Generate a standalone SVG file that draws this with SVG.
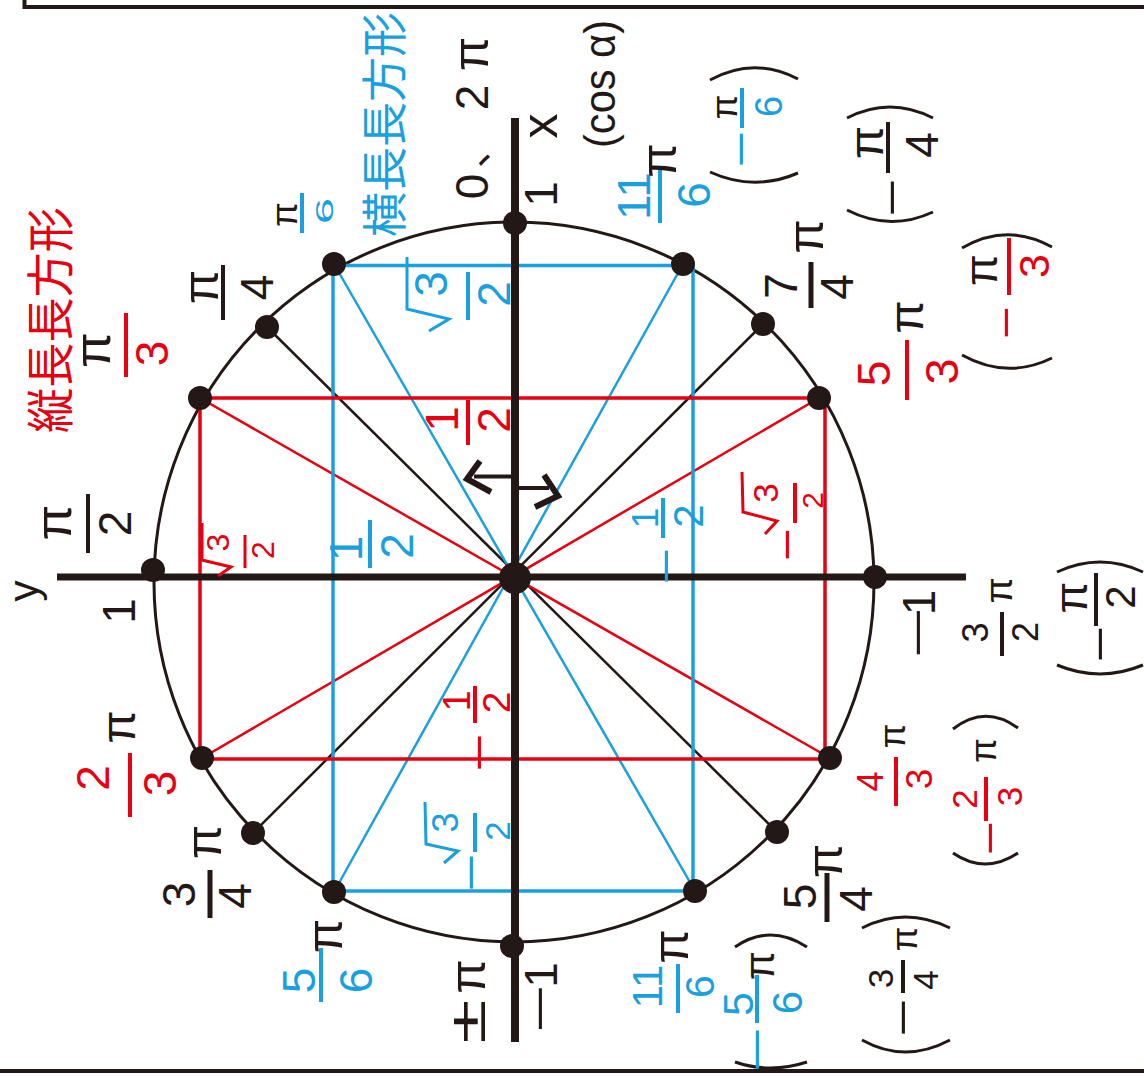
<svg xmlns="http://www.w3.org/2000/svg" width="1144" height="1078" viewBox="0 0 1144 1078">
<defs>
<style>
.t{font-family:"Liberation Sans","Noto Sans CJK JP",sans-serif;text-anchor:middle}
.j{font-family:"Noto Sans CJK JP",sans-serif;text-anchor:middle}
.k{fill:#231815}
.r{fill:#e60012}
.b{fill:#1a9fe0}
.lk{stroke:#231815;fill:none}
.lr{stroke:#e60012;fill:none}
.lb{stroke:#1a9fe0;fill:none}
.par{stroke:#231815;stroke-width:3;fill:none}
.rad{stroke-width:3;fill:none;stroke-linejoin:miter}
.dot{fill:#231815}
</style>
</defs>
<rect width="1144" height="1078" fill="#ffffff"/>
<g id="frame" class="lk" stroke-width="4">
<path d="M24.5 0 V7 H1144"/>
<path d="M0 1071 H1144"/>
</g>
<g id="connectors">
<circle cx="514" cy="582" r="360" class="lk" stroke-width="3"/>
<g class="lk" stroke-width="2.5">
<line x1="267" y1="327" x2="777" y2="832"/>
<line x1="253" y1="833" x2="763" y2="324"/>
</g>
<g class="lb" stroke-width="2.5">
<line x1="334" y1="264" x2="695" y2="891"/>
<line x1="683" y1="264" x2="334" y2="892"/>
</g>
<g class="lr" stroke-width="2.5">
<line x1="200" y1="398" x2="830" y2="758"/>
<line x1="202" y1="758" x2="819" y2="398"/>
</g>
<path class="lb" stroke-width="3.5" d="M333 265.5 H693 V891 H333 Z"/>
<path class="lr" stroke-width="3.5" d="M200 398 H825 V759 H200 Z"/>
<g class="lk">
<line x1="57" y1="577" x2="966" y2="577" stroke-width="7"/>
<line x1="515" y1="118" x2="515" y2="1042" stroke-width="8"/>
<path d="M512 476.5 H474" stroke-width="4"/>
<path d="M480 461 L467 479 L491 492" stroke-width="6"/>
<path d="M516 488 H549" stroke-width="4"/>
<path d="M544 475 L558 496 L535 507" stroke-width="6"/>
</g>
</g>
<g id="points">
<circle id="p0" class="dot" cx="515" cy="223" r="12"/>
<circle id="p30" class="dot" cx="334" cy="264" r="12"/>
<circle id="p45" class="dot" cx="267" cy="327" r="12"/>
<circle id="p60" class="dot" cx="200" cy="398" r="12"/>
<circle id="p90" class="dot" cx="153" cy="570" r="12"/>
<circle id="p120" class="dot" cx="202" cy="758" r="12"/>
<circle id="p135" class="dot" cx="253" cy="833" r="12"/>
<circle id="p150" class="dot" cx="334" cy="892" r="12"/>
<circle id="p180" class="dot" cx="512" cy="946" r="12"/>
<circle id="p210" class="dot" cx="695" cy="891" r="12"/>
<circle id="p225" class="dot" cx="777" cy="832" r="12"/>
<circle id="p240" class="dot" cx="830" cy="758" r="12"/>
<circle id="p270" class="dot" cx="875" cy="577" r="12"/>
<circle id="p300" class="dot" cx="819" cy="398" r="12"/>
<circle id="p315" class="dot" cx="763" cy="324" r="12"/>
<circle id="p330" class="dot" cx="683" cy="264" r="12"/>
<circle id="origin" class="dot" cx="515" cy="578" r="16"/>
</g>
<g id="labels" transform="translate(0 1078) rotate(-90)">
<g id="lbl-tate"><text class="j r" x="758" y="68" font-size="48" textLength="226" lengthAdjust="spacingAndGlyphs">縦長長方形</text></g>
<g id="lbl-yoko"><text class="j b" x="953.5" y="401" font-size="46" textLength="225" lengthAdjust="spacingAndGlyphs">横長長方形</text></g>
<g id="lbl-y"><text class="t k" x="487" y="38" font-size="42">y</text></g>
<g id="lbl-y1"><text class="t k" x="467" y="135" font-size="46">1</text></g>
<g id="lbl-pi2"><text class="t k" x="555.5" y="71" font-size="52">π</text><line class="lk" stroke-width="4" x1="525" y1="88" x2="584" y2="88"/><text class="t k" x="554.5" y="131" font-size="46">2</text></g>
<g id="lbl-pi3"><text class="t k" x="728" y="110" font-size="52">π</text><line class="lr" stroke-width="4" x1="701" y1="126" x2="765" y2="126"/><text class="t r" x="724.5" y="168" font-size="46">3</text></g>
<g id="lbl-pi4"><text class="t k" x="791" y="218" font-size="50">π</text><line class="lk" stroke-width="4" x1="758" y1="223" x2="813" y2="223"/><text class="t k" x="790.5" y="273" font-size="46">4</text></g>
<g id="lbl-pi6"><text class="t k" x="863.5" y="297" font-size="36">π</text><line class="lb" stroke-width="4" x1="845" y1="302" x2="885" y2="302"/><text class="t b" x="867" y="333" font-size="24" textLength="26" lengthAdjust="spacingAndGlyphs">6</text></g>
<g id="lbl-zero"><text class="t k" x="891.5" y="488" font-size="46">0</text><text class="j k" x="910" y="487" font-size="40" style="text-anchor:start">、</text><text class="t k" x="980.5" y="488" font-size="46">2</text><text class="t k" x="1024" y="488" font-size="50">π</text></g>
<g id="lbl-x"><text class="t k" x="952" y="557" font-size="50">x</text></g>
<g id="lbl-x1"><text class="t k" x="884" y="557" font-size="46">1</text></g>
<g id="lbl-cos"><text class="t k" x="994" y="615" font-size="44" textLength="128" lengthAdjust="spacingAndGlyphs">(cos α)</text></g>
<g id="lbl-11pi6-top"><text class="t b" x="882" y="650" font-size="46">11</text><line class="lb" stroke-width="4" x1="855" y1="660" x2="908" y2="660"/><text class="t b" x="883" y="710" font-size="46">6</text><text class="t k" x="917.5" y="676" font-size="50">π</text></g>
<g id="lbl-mpi6"><path class="par" d="M998 710 Q1022 754 999 798"/><path class="par" d="M906 710 Q886 754 905 798"/><text class="t k" x="971" y="737" font-size="36">π</text><line class="lb" stroke-width="4" x1="950" y1="742" x2="990" y2="742"/><text class="t b" x="971.5" y="782" font-size="38">6</text><text class="t b" x="929" y="756" font-size="44" textLength="37" lengthAdjust="spacingAndGlyphs">−</text></g>
<g id="lbl-7pi4"><text class="t k" x="792" y="797" font-size="46">7</text><line class="lk" stroke-width="5" x1="770" y1="811" x2="816" y2="811"/><text class="t k" x="791" y="853" font-size="46">4</text><text class="t k" x="841.5" y="823" font-size="50">π</text></g>
<g id="lbl-mpi4"><path class="par" d="M960 847 Q982 890 960 933"/><path class="par" d="M868 847 Q846 890 866 933"/><text class="t k" x="935.5" y="883" font-size="48">π</text><line class="lk" stroke-width="4" x1="905" y1="888" x2="956" y2="888"/><text class="t k" x="933" y="938" font-size="46">4</text><text class="t k" x="880.5" y="907" font-size="44" textLength="38.6" lengthAdjust="spacingAndGlyphs">−</text></g>
<g id="lbl-mpi3"><path class="par" d="M830 962 Q856 1007 831 1052"/><path class="par" d="M723 962 Q698 1007 720 1052"/><text class="t k" x="808" y="997" font-size="46">π</text><line class="lr" stroke-width="4" x1="783" y1="1009" x2="840" y2="1009"/><text class="t r" x="812" y="1049" font-size="43">3</text><text class="t r" x="755.5" y="1021" font-size="44" textLength="33" lengthAdjust="spacingAndGlyphs">−</text></g>
<g id="lbl-5pi3"><text class="t k" x="761" y="923" font-size="48">π</text><line class="lr" stroke-width="4" x1="678" y1="907" x2="738" y2="907"/><text class="t r" x="704.5" y="890" font-size="46">5</text><text class="t r" x="706.5" y="958" font-size="47">3</text></g>
<g id="lbl-sqrt3-top"><polyline class="lb rad" points="747,429 759,449 769,407 821,407"/><text class="t b" x="794" y="447" font-size="46">3</text><line class="lb" stroke-width="4" x1="758" y1="468" x2="806" y2="468"/><text class="t b" x="784" y="510" font-size="46">2</text></g>
<g id="lbl-half-top"><text class="t r" x="659" y="458" font-size="46">1</text><line class="lr" stroke-width="4" x1="633" y1="468" x2="678" y2="468"/><text class="t r" x="658" y="510" font-size="46">2</text></g>
<g id="lbl-sqrt3-left"><polyline class="lr rad" points="502,218 511,231 518,202 555,202"/><text class="t r" x="535.5" y="229" font-size="32">3</text><line class="lr" stroke-width="3" x1="510" y1="245" x2="543" y2="245"/><text class="t r" x="528" y="274" font-size="32">2</text></g>
<g id="lbl-half-left"><text class="t b" x="529.5" y="362" font-size="46">1</text><line class="lb" stroke-width="4" x1="510" y1="370" x2="558" y2="370"/><text class="t b" x="532" y="413" font-size="46">2</text></g>
<g id="lbl-mhalf-right"><text class="t b" x="560" y="658" font-size="37">1</text><line class="lb" stroke-width="4" x1="540" y1="663" x2="580" y2="663"/><text class="t b" x="562" y="703" font-size="42">2</text><text class="t b" x="512" y="681" font-size="44" textLength="37" lengthAdjust="spacingAndGlyphs">−</text></g>
<g id="lbl-msqrt3-right"><polyline class="lr rad" points="544,765 557,777 566,743 606,742"/><text class="t r" x="585" y="778" font-size="35">3</text><line class="lr" stroke-width="4" x1="555" y1="795" x2="595" y2="795"/><text class="t r" x="577.5" y="823" font-size="30">2</text><text class="t r" x="533.5" y="802" font-size="44" textLength="33" lengthAdjust="spacingAndGlyphs">−</text></g>
<g id="lbl-mhalf-bottom"><text class="t r" x="377" y="470" font-size="38">1</text><line class="lr" stroke-width="4" x1="355" y1="475" x2="392" y2="475"/><text class="t r" x="375.5" y="510" font-size="39">2</text><text class="t r" x="325.5" y="494" font-size="44" textLength="38.6" lengthAdjust="spacingAndGlyphs">−</text></g>
<g id="lbl-msqrt3-bottom"><polyline class="lb rad" points="215,444 227,458 234,426 276,425"/><text class="t b" x="255.5" y="458" font-size="36">3</text><line class="lb" stroke-width="4" x1="226" y1="475" x2="265" y2="475"/><text class="t b" x="247" y="510" font-size="35">2</text><text class="t b" x="205.5" y="486" font-size="44" textLength="38.6" lengthAdjust="spacingAndGlyphs">−</text></g>
<g id="lbl-pmpi"><text class="t k" x="101.5" y="485" font-size="50">π</text><text class="t k" x="56.5" y="485" font-size="52" textLength="44" lengthAdjust="spacingAndGlyphs">±</text></g>
<g id="lbl-m1-bottom"><text class="t k" x="103" y="557" font-size="46">1</text><text class="t k" x="69.5" y="555" font-size="44" textLength="49" lengthAdjust="spacingAndGlyphs">−</text></g>
<g id="lbl-11pi6-bottom"><text class="t b" x="91.5" y="662" font-size="42">11</text><line class="lb" stroke-width="4" x1="65" y1="678" x2="114" y2="678"/><text class="t b" x="91.5" y="714" font-size="41">6</text><text class="t k" x="131.5" y="688" font-size="50">π</text></g>
<g id="lbl-m5pi6"><path class="par" d="M131 735 Q155 770 131 807"/><path class="par" d="M16 735 Q4 770 16 807"/><text class="t k" x="112.5" y="774" font-size="42">π</text><text class="t b" x="74" y="753" font-size="43">5</text><line class="lb" stroke-width="4" x1="55" y1="757" x2="103" y2="757"/><text class="t b" x="75.5" y="802" font-size="42">6</text><text class="t b" x="28.5" y="772" font-size="44" textLength="46" lengthAdjust="spacingAndGlyphs">−</text></g>
<g id="lbl-5pi6"><text class="t k" x="142" y="342" font-size="50">π</text><line class="lb" stroke-width="4" x1="76" y1="321" x2="130" y2="321"/><text class="t b" x="97.5" y="315" font-size="46">5</text><text class="t b" x="97.5" y="372" font-size="46">6</text></g>
<g id="lbl-3pi4"><text class="t k" x="236" y="221" font-size="50">π</text><line class="lk" stroke-width="5" x1="160" y1="210" x2="208" y2="210"/><text class="t k" x="183.5" y="195" font-size="46">3</text><text class="t k" x="182" y="251" font-size="46">4</text></g>
<g id="lbl-2pi3"><text class="t k" x="351" y="135" font-size="48">π</text><line class="lr" stroke-width="4" x1="261" y1="130" x2="325" y2="130"/><text class="t r" x="300" y="109" font-size="46">2</text><text class="t r" x="294.5" y="176" font-size="46">3</text></g>
<g id="lbl-3pi2"><text class="t k" x="487.5" y="1012" font-size="38">π</text><line class="lk" stroke-width="4" x1="422" y1="1002" x2="466" y2="1002"/><text class="t k" x="445.5" y="988" font-size="36">3</text><text class="t k" x="446" y="1038" font-size="36">2</text></g>
<g id="lbl-m1-right"><text class="t k" x="475.5" y="935" font-size="46">1</text><text class="t k" x="445.5" y="933" font-size="44" textLength="52" lengthAdjust="spacingAndGlyphs">−</text></g>
<g id="lbl-mpi2"><path class="par" d="M506 1057 Q526 1100 506 1143"/><path class="par" d="M413 1057 Q395 1100 413 1143"/><text class="t k" x="480.5" y="1087" font-size="46">π</text><line class="lk" stroke-width="4" x1="452" y1="1096" x2="505" y2="1096"/><text class="t k" x="481" y="1135" font-size="42">2</text><text class="t k" x="434" y="1115" font-size="44" textLength="37" lengthAdjust="spacingAndGlyphs">−</text></g>
<g id="lbl-4pi3"><text class="t k" x="342" y="905" font-size="36">π</text><line class="lr" stroke-width="4" x1="272" y1="896" x2="321" y2="896"/><text class="t r" x="296.5" y="883" font-size="36">4</text><text class="t r" x="299" y="932" font-size="37">3</text></g>
<g id="lbl-m2pi3"><path class="par" d="M349 953 Q374 985 350 1018"/><path class="par" d="M225 953 Q203 985 225 1018"/><text class="t k" x="327.5" y="996" font-size="36">π</text><text class="t r" x="279" y="977" font-size="35">2</text><line class="lr" stroke-width="4" x1="257" y1="986" x2="301" y2="986"/><text class="t r" x="281.5" y="1022" font-size="35">3</text><text class="t r" x="240" y="1005" font-size="44" textLength="34.5" lengthAdjust="spacingAndGlyphs">−</text></g>
<g id="lbl-5pi4"><text class="t k" x="217" y="842" font-size="50">π</text><line class="lk" stroke-width="5" x1="156" y1="827" x2="205" y2="827"/><text class="t k" x="181.5" y="816" font-size="46">5</text><text class="t k" x="179" y="872" font-size="46">4</text></g>
<g id="lbl-m3pi4"><path class="par" d="M150 862 Q172 905 150 950"/><path class="par" d="M38 862 Q14 905 38 950"/><text class="t k" x="139" y="917" font-size="36">π</text><text class="t k" x="99.5" y="893" font-size="35">3</text><line class="lk" stroke-width="4" x1="85" y1="903" x2="118" y2="903"/><text class="t k" x="98" y="938" font-size="35">4</text><text class="t k" x="60.5" y="918" font-size="44" textLength="38.6" lengthAdjust="spacingAndGlyphs">−</text></g>
</g>
</svg>
